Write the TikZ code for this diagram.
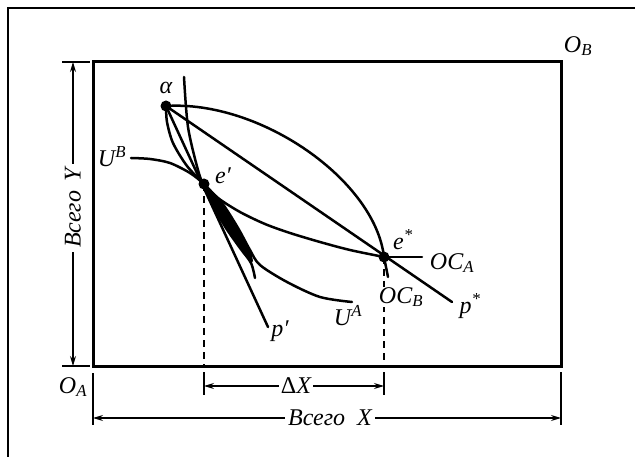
\documentclass[tikz,border=0pt]{standalone}
\usepackage{fontspec}
\setmainfont{Liberation Serif}
\usetikzlibrary{arrows.meta}
\begin{document}
\begin{tikzpicture}[x=1pt,y=-1pt,
  lab/.style={font=\fontsize{24}{27}\selectfont\itshape, inner sep=1pt},
  curve/.style={line width=2.5pt, line cap=round, line join=round},
  thinln/.style={line width=1.2pt},
  dimarr/.style={thinln, {Stealth[length=10pt,width=6pt]}-{Stealth[length=10pt,width=6pt]}},
  dot/.style={circle, fill=black, inner sep=0pt, minimum size=11pt},
  dashln/.style={line width=1.6pt, dash pattern=on 7pt off 5pt}]
\useasboundingbox (0,0) rectangle (635,457);
% outer frame
\draw[line width=1.4pt] (8,457) -- (8,8) -- (635,8);
% box
\coordinate (OA) at (93,366);
\coordinate (OB) at (561,62);
\draw[line width=3pt] (OA) rectangle (OB);
% key points
\coordinate (A) at (166,106);
\coordinate (E1) at (204,184);
\coordinate (E2) at (384,257);
\coordinate (PS) at (452,302);
\coordinate (PP) at (268,327);
\coordinate (UB0) at (131,158);
\coordinate (UA0) at (184,77);
\coordinate (UA1) at (352,302);
\coordinate (OCA1) at (422,257);
\coordinate (OCB1) at (388,277);
\coordinate (ST1) at (255,278);
% dashed drop lines
\draw[dashln] (E1) -- (E1 |- OA);
\draw[dashln] (E2) -- (E2 |- OA);
% straight price lines
\draw[curve] (A) -- (PS);
\draw[curve] (A) -- (PP);
% OC_B arc
\draw[curve] (A) .. controls (260,100) and (375,180) .. (E2) -- (OCB1);
% U^B / OC_A curve
\draw[curve] plot[smooth] coordinates {(UB0) (150,159) (170,163) (190,173) (E1) (218,198) (240,212) (265,224) (290,233) (320,242) (350,250) (E2)};
\draw[curve] (E2) -- (OCA1);
% left bowed curve alpha -> e'
\draw[curve] plot[smooth] coordinates {(A) (167,122) (173,143) (187,166) (E1)};
% U^A
\draw[curve] plot[smooth] coordinates {(UA0) (188,127) (198,170) (E1) (222,203) (238,228) (250,250) (260,265) (287,282) (320,297) (UA1)};
% stub through lens
\draw[curve] plot[smooth] coordinates {(E1) (212,204) (226,228) (240,248) (251,263) (ST1)};
% lens fill
\fill plot[smooth] coordinates {(E1) (222,203) (238,228) (250,250) (253,261)} -- plot[smooth] coordinates {(251,263) (240,248) (226,228) (212,204) (E1)} -- cycle;
% dots
\node[dot] (dA) at (A) {};
\node[dot] (dE1) at (E1) {};
\node[dot] (dE2) at (E2) {};
% Y dimension
\draw[thinln] (62,62) -- (90,62);
\draw[thinln] (62,366) -- (90,366);
\coordinate (Yt) at (73,62);
\coordinate (Yb) at (73,366);
\draw[dimarr] (Yb) -- (Yt);
\node[lab, fill=white, rotate=90, inner xsep=4pt] (ty) at (73,208) {Всего\hspace{0.4em}Y};
% Delta X dimension
\coordinate (D1) at (204,386);
\coordinate (D2) at (384,386);
\draw[thinln] (204,372) -- (204,395);
\draw[thinln] (384,372) -- (384,395);
\draw[dimarr] (D1) -- (D2);
\node[lab, fill=white, inner xsep=2pt] (tdx) at (296,386) {{\upshape Δ}X};
% total X dimension
\coordinate (X1) at (93,418);
\coordinate (X2) at (561,418);
\draw[thinln] (93,373) -- (93,425);
\draw[thinln] (561,372) -- (561,425);
\draw[dimarr] (X1) -- (X2);
\node[lab, fill=white, inner xsep=3pt] (tx) at (330,418) {Всего\hspace{0.5em}X};
% labels
\node[lab] (la) at (166,88) {α};
\node[lab] (le1) at (223,176) {e′};
\node[lab] (le2) at (403,240) {e\textsuperscript{*}};
\node[lab] (lub) at (112,157) {U\textsuperscript{B}};
\node[lab] (lua) at (348,316) {U\textsuperscript{A}};
\node[lab] (loca) at (452,263) {OC\textsubscript{A}};
\node[lab, fill=white, inner sep=0pt] (locb) at (401,297) {OC\textsubscript{B}};
\node[lab] (lpp) at (280,331) {p′};
\node[lab] (lps) at (470,306) {p\textsuperscript{*}};
\node[lab] (lob) at (578,46) {O\textsubscript{B}};
\node[lab] (loa) at (73,387) {O\textsubscript{A}};
\end{tikzpicture}
\end{document}
